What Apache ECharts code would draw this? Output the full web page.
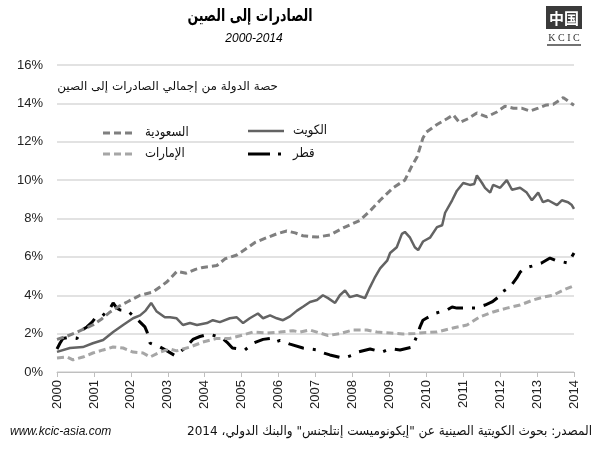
<!DOCTYPE html>
<html>
<head>
<meta charset="utf-8">
<script src="https://cdn.jsdelivr.net/npm/echarts@6/dist/echarts.min.js"></script>
<style>
  html, body { margin: 0; padding: 0; background: #fff; }
  #chart { width: 600px; height: 451px; }
</style>
</head>
<body>
<div id="chart"></div>
<script>
// year, share of total exports to China (%)
let saudi = [[2000.0,1.7],[2000.25,1.85],[2000.54,2.08],[2000.97,2.45],[2001.2,2.75],[2001.44,3.13],[2001.7,3.45],[2001.9,3.65],[2002.25,4.0],[2002.6,4.17],[2002.98,4.7],[2003.25,5.25],[2003.5,5.15],[2003.75,5.35],[2003.95,5.45],[2004.33,5.55],[2004.55,5.9],[2004.87,6.1],[2005.14,6.45],[2005.36,6.75],[2005.68,7.0],[2005.95,7.2],[2006.22,7.35],[2006.45,7.25],[2006.66,7.1],[2007.04,7.03],[2007.39,7.14],[2007.74,7.5],[2008.2,7.9],[2008.48,8.4],[2008.75,8.95],[2009.1,9.6],[2009.42,10.0],[2009.6,10.7],[2009.75,11.2],[2009.91,12.2],[2010.0,12.5],[2010.29,12.9],[2010.56,13.2],[2010.73,13.4],[2010.9,13.0],[2011.13,13.2],[2011.37,13.5],[2011.64,13.3],[2011.91,13.55],[2012.13,13.85],[2012.36,13.75],[2012.58,13.75],[2012.81,13.6],[2013.03,13.75],[2013.22,13.9],[2013.44,13.95],[2013.71,14.3],[2013.89,14.05],[2014.0,13.9]];

let kuwait = [[2000.0,1.05],[2000.35,1.25],[2000.7,1.3],[2000.97,1.5],[2001.25,1.67],[2001.52,2.08],[2001.79,2.45],[2002.06,2.8],[2002.25,2.95],[2002.4,3.2],[2002.55,3.6],[2002.7,3.15],[2002.92,2.85],[2003.06,2.85],[2003.24,2.8],[2003.41,2.45],[2003.6,2.55],[2003.79,2.45],[2004.06,2.55],[2004.22,2.7],[2004.41,2.6],[2004.68,2.8],[2004.87,2.85],[2005.04,2.55],[2005.22,2.8],[2005.44,3.05],[2005.58,2.8],[2005.77,2.95],[2005.95,2.8],[2006.12,2.7],[2006.31,2.9],[2006.5,3.2],[2006.66,3.4],[2006.85,3.65],[2007.04,3.75],[2007.2,4.0],[2007.34,3.85],[2007.53,3.6],[2007.66,4.0],[2007.8,4.25],[2007.93,3.9],[2008.12,4.0],[2008.34,3.85],[2008.47,4.4],[2008.6,4.9],[2008.75,5.4],[2008.94,5.8],[2009.02,6.2],[2009.2,6.5],[2009.34,7.2],[2009.42,7.3],[2009.56,7.0],[2009.69,6.5],[2009.78,6.35],[2009.91,6.8],[2010.1,7.0],[2010.29,7.55],[2010.43,7.65],[2010.51,8.3],[2010.7,8.95],[2010.83,9.45],[2011.0,9.85],[2011.18,9.75],[2011.3,9.8],[2011.37,10.25],[2011.51,9.85],[2011.59,9.6],[2011.73,9.35],[2011.81,9.75],[2012.0,9.6],[2012.18,10.0],[2012.32,9.5],[2012.54,9.6],[2012.72,9.35],[2012.86,8.95],[2013.03,9.35],[2013.16,8.85],[2013.3,8.95],[2013.54,8.7],[2013.67,8.95],[2013.84,8.85],[2013.94,8.7],[2014.0,8.5]];

let uae = [[2000.0,0.73],[2000.27,0.78],[2000.43,0.63],[2000.7,0.78],[2000.97,0.99],[2001.25,1.15],[2001.52,1.3],[2001.79,1.25],[2002.06,1.04],[2002.33,0.99],[2002.52,0.78],[2002.79,1.04],[2003.06,1.2],[2003.24,1.1],[2003.6,1.3],[2003.95,1.56],[2004.33,1.75],[2004.68,1.75],[2005.04,1.93],[2005.3,2.08],[2005.68,2.03],[2006.04,2.08],[2006.39,2.15],[2006.58,2.08],[2006.85,2.19],[2007.12,2.03],[2007.34,1.9],[2007.66,2.0],[2008.02,2.19],[2008.39,2.19],[2008.66,2.08],[2009.02,2.03],[2009.37,1.98],[2009.69,2.0],[2009.91,2.05],[2010.29,2.08],[2010.72,2.29],[2011.1,2.45],[2011.45,2.87],[2011.81,3.13],[2012.18,3.33],[2012.54,3.49],[2012.89,3.75],[2013.16,3.9],[2013.43,4.0],[2013.71,4.27],[2014.0,4.5]];

let qatar = [[2000.0,1.2],[2000.08,1.5],[2000.16,1.75],[2000.3,1.8],[2000.54,1.75],[2000.68,2.19],[2000.81,2.35],[2000.95,2.6],[2001.03,2.8],[2001.22,2.9],[2001.44,3.33],[2001.52,3.6],[2001.62,3.33],[2001.71,3.23],[2001.9,3.2],[2002.1,2.87],[2002.25,2.6],[2002.38,2.35],[2002.44,2.08],[2002.52,1.5],[2002.79,1.3],[2002.98,1.1],[2003.2,0.85],[2003.47,1.25],[2003.68,1.7],[2003.87,1.85],[2004.06,1.95],[2004.2,1.93],[2004.47,1.77],[2004.63,1.5],[2004.75,1.25],[2004.95,1.2],[2005.09,1.15],[2005.31,1.5],[2005.58,1.7],[2005.77,1.75],[2005.9,1.55],[2006.04,1.65],[2006.31,1.45],[2006.66,1.25],[2006.85,1.2],[2007.04,1.15],[2007.12,1.05],[2007.39,0.89],[2007.74,0.73],[2007.88,0.8],[2008.02,0.89],[2008.15,1.04],[2008.48,1.2],[2008.8,1.04],[2008.94,1.15],[2009.1,1.2],[2009.29,1.15],[2009.62,1.3],[2009.75,1.9],[2009.83,2.35],[2009.91,2.7],[2010.0,2.8],[2010.26,3.07],[2010.56,3.23],[2010.7,3.39],[2010.83,3.33],[2011.0,3.33],[2011.32,3.33],[2011.59,3.49],[2011.78,3.65],[2011.95,3.9],[2012.0,4.1],[2012.27,4.43],[2012.45,4.9],[2012.54,5.2],[2012.67,5.42],[2012.86,5.52],[2013.12,5.68],[2013.35,5.94],[2013.54,5.78],[2013.71,5.73],[2013.84,5.68],[2014.0,6.2]];

let names = ["السعودية","الكويت","الإمارات","قطر"];
let title = "الصادرات إلى الصين";
let subTitle = "2000-2014";
let noteText = "حصة الدولة من إجمالي الصادرات إلى الصين";
let sourceText = "\u202Bالمصدر: بحوث الكويتية الصينية عن \"إيكونوميست إنتلجنس\" والبنك الدولي، 2014\u202C";
let siteText = "www.kcic-asia.com";

const FONT = "Arial, 'Liberation Sans', 'DejaVu Sans', sans-serif";
const AR = "'DejaVu Sans', Arial, sans-serif";

let styles = [
    {color:"#7f7f7f", width:3, type:[7,4]},
    {color:"#636363", width:2.5, type:"solid"},
    {color:"#a6a6a6", width:3, type:[7,4]},
    {color:"#000000", width:3, type:[16,9,3,9]}
];

let myChart = echarts.init(document.getElementById("chart"));

/** legend drawn by hand: sample line on the left, label on the right */
let legendPos = [[103,133],[248,131],[103,154],[248,154]];
let legendItems = [];
names.forEach((n,i)=>{
    let p = legendPos[i];
    legendItems.push({
        type:"line",
        shape:{x1:p[0], y1:p[1], x2:p[0]+(i%2?36:32), y2:p[1]},
        style:{stroke:styles[i].color, lineWidth:styles[i].width, lineDash:styles[i].type==="solid"?null:(i===3?[22,8,3,9]:styles[i].type)}
    });
    legendItems.push({
        type:"text",
        x:p[0]+(i%2?45:42), y:p[1], scaleX:0.9,
        style:{text:n, font:"13px "+AR, fill:"#111", textVerticalAlign:"middle"}
    });
});

myChart.setOption({
    backgroundColor:"#fff",
    animation:false,
    grid:{left:57, right:26, top:65, bottom:79},
    xAxis:{
        type:"value", min:2000, max:2014, interval:1,
        axisLine:{lineStyle:{color:"#bfbfbf"}},
        axisTick:{show:true, length:5, lineStyle:{color:"#bfbfbf"}},
        splitLine:{show:false},
        axisLabel:{rotate:90, margin:8, color:"#222", fontSize:13, fontFamily:FONT, formatter:(v)=>String(v)}
    },
    yAxis:{
        type:"value", min:0, max:16, interval:2,
        axisLine:{show:false}, axisTick:{show:false},
        splitLine:{lineStyle:{color:"#d9d9d9", width:1.5}},
        axisLabel:{margin:14, color:"#222", fontSize:13, fontFamily:FONT, formatter:"{value}%"}
    },
    series:[saudi,kuwait,uae,qatar].map((d,i)=>({
        name:names[i], type:"line", data:d, showSymbol:false, symbol:"none",
        smooth:false, z:10-i,
        lineStyle:{color:styles[i].color, width:styles[i].width, type:styles[i].type, cap:"butt"}
    })),
    graphic:[
        {type:"text", x:250, y:17, scaleX:0.74, style:{text:title, font:"bold 17px "+AR, fill:"#000", textAlign:"center", textVerticalAlign:"middle"}},
        {type:"text", x:254, y:39, style:{text:subTitle, font:"italic 12px "+FONT, fill:"#000", textAlign:"center", textVerticalAlign:"middle"}},
        {type:"text", x:278, y:87, style:{text:noteText, font:"12px "+AR, fill:"#111", textAlign:"right", textVerticalAlign:"middle"}},
        // logo
        {type:"rect", shape:{x:546, y:6, width:36, height:23}, style:{fill:"#3a3a3a"}},
        {type:"text", x:564, y:18, style:{text:"中国", font:"bold 15px 'Noto Sans CJK SC'", fill:"#fff", textAlign:"center", textVerticalAlign:"middle"}},
        {type:"text", x:564, y:38, style:{text:"K C I C", font:"10px 'Liberation Serif', serif", fill:"#333", textAlign:"center", textVerticalAlign:"middle"}},
        {type:"line", shape:{x1:547, y1:45, x2:581, y2:45}, style:{stroke:"#444", lineWidth:1.5}},
        // footer
        {type:"text", x:10, y:432, style:{text:siteText, font:"italic 12px "+FONT, fill:"#111", textVerticalAlign:"middle"}},
        {type:"text", x:592, y:432, scaleX:0.93, style:{text:sourceText, font:"13px "+AR, fill:"#111", textAlign:"right", textVerticalAlign:"middle"}}
    ].concat(legendItems)
});
</script>
</body>
</html>
